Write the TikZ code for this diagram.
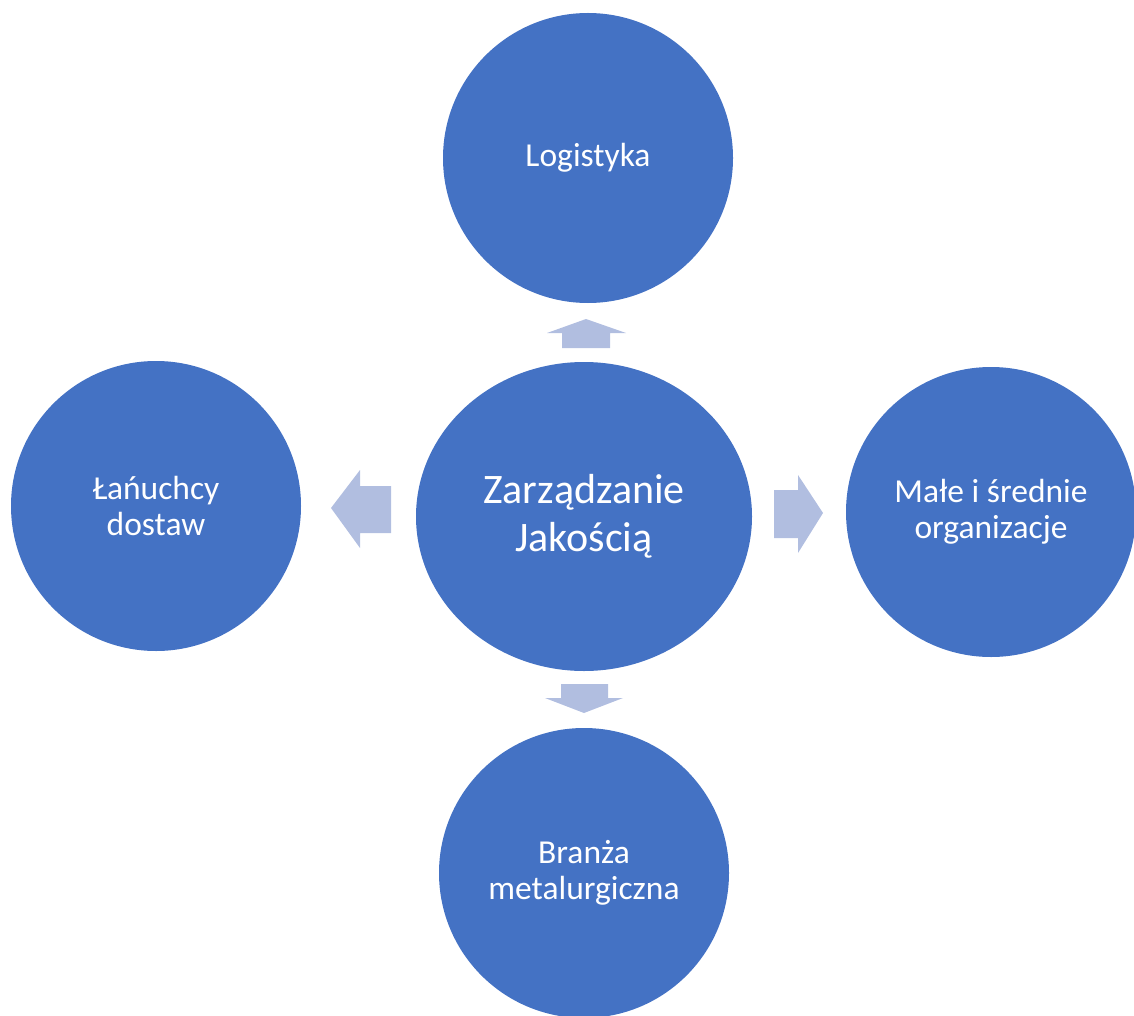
\documentclass[tikz,border=0pt]{standalone}
\usepackage{fontspec}
\setmainfont{Carlito}
\usetikzlibrary{shapes.geometric}
\definecolor{circblue}{HTML}{4472C4}
\definecolor{arrowblue}{HTML}{B1BEE0}
\begin{document}
\begin{tikzpicture}[x=1pt,y=-1pt,
  bubble/.style={circle,fill=circblue,draw=none,inner sep=0pt,minimum size=290pt,
    text=white,align=center,font=\fontsize{33.5}{36}\selectfont},
  hub/.style={ellipse,fill=circblue,draw=none,inner sep=0pt,minimum width=336pt,minimum height=309pt,
    text=white,align=center,font=\fontsize{42}{48}\selectfont},
  blockarrow/.style={fill=arrowblue,draw=none}]
\useasboundingbox (0,0) rectangle (1134,1016);
\node[hub] (hub) at (584,516.5) {Zarządzanie\\Jakością};
\node[bubble] (top) at (588,158) {Logistyka};
\node[bubble] (left) at (156,506) {Łańuchcy\\dostaw};
\node[bubble] (right) at (991,512) {Małe i średnie\\organizacje};
\node[bubble] (bottom) at (584,873) {Branża\\metalurgiczna};
% block arrows
\fill[blockarrow] (586,319) -- (626,333) -- (610,333) -- (610,348) -- (562,348) -- (562,333) -- (547,333) -- cycle;
\fill[blockarrow] (561,684) -- (608,684) -- (608,698) -- (623,698) -- (584,713) -- (545,698) -- (561,698) -- cycle;
\fill[blockarrow] (331,508) -- (360,470) -- (360,486) -- (391,486) -- (391,533) -- (360,533) -- (360,548) -- cycle;
\fill[blockarrow] (774,490) -- (798,490) -- (798,475) -- (823,513) -- (798,553) -- (798,538) -- (774,538) -- cycle;
\end{tikzpicture}
\end{document}
